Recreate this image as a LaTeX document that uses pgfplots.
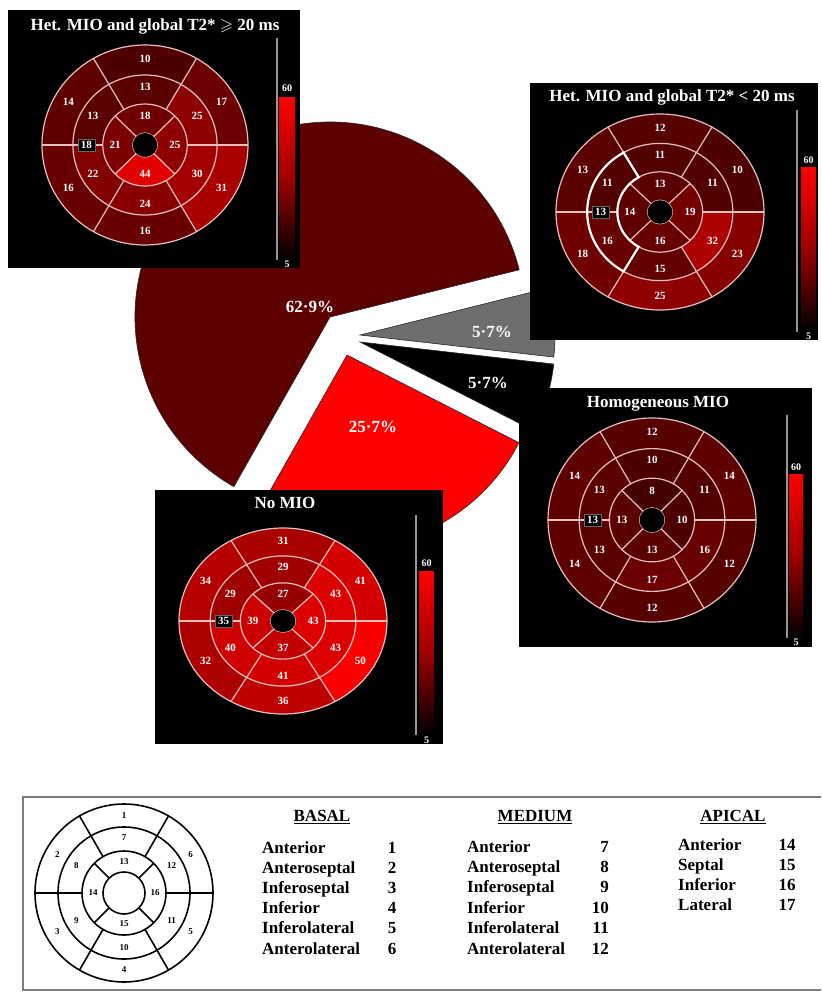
\documentclass[border=0pt]{standalone}
\usepackage{pgfplots}
\pgfplotsset{compat=1.18}
\usepackage{fontspec}
\setmainfont{Liberation Serif}
\usepackage{amssymb}

\definecolor{piedark}{RGB}{92,0,0}
\definecolor{piegray}{RGB}{110,110,110}
\definecolor{segline}{RGB}{228,192,192}
\definecolor{cbline}{RGB}{150,150,150}
\definecolor{framegray}{RGB}{125,125,125}

% pie shares (percent)
\def\pctGray{5.7}\def\pctDark{62.9}\def\pctRed{25.7}\def\pctBlack{5.7}

\tikzset{numlab/.style={text=white, inner sep=0pt, font=\fontsize{11}{12}\selectfont\bfseries},
  ttl/.style={text=white, inner sep=0pt, font=\fontsize{17}{20}\selectfont\bfseries},
  pielab/.style={text=white, inner sep=0pt, font=\fontsize{17}{19}\selectfont\bfseries},
  leg/.style={inner sep=0pt, anchor=base west, font=\fontsize{17}{19}\selectfont\bfseries},
  legn/.style={inner sep=0pt, anchor=base, font=\fontsize{17}{19}\selectfont\bfseries},
  cblab/.style={text=white, inner sep=0pt, font=\fontsize{10}{11}\selectfont\bfseries}}

\newcommand{\seg}[9]{%
  \pgfmathsetmacro\pc{min(100,max(0,22+(#9-5)*1.7))}%
  \pgfmathsetmacro\aA{#7}\pgfmathsetmacro\aB{#8}%
  \pgfmathsetmacro\Rox{#6*#3}\pgfmathsetmacro\Roy{#6*#4}%
  \pgfmathsetmacro\Rix{#5*#3}\pgfmathsetmacro\Riy{#5*#4}%
  \pgfmathsetmacro\Dx{(#5-#6)*#3}\pgfmathsetmacro\Dy{(#5-#6)*#4}%
  \fill[red!\pc!black] (axis cs:#1,#2) ++(\aA:\Rox pt and \Roy pt)
    arc[start angle=\aA, end angle=\aB, x radius=\Rox pt, y radius=\Roy pt]
    -- ++(\aB:\Dx pt and \Dy pt)
    arc[start angle=\aB, end angle=\aA, x radius=\Rix pt, y radius=\Riy pt] -- cycle;
}

\newcommand{\radial}[7]{% cx cy rx ry r1 r2 angle, pink line
  \pgfmathsetmacro\Ax{#5*#3}\pgfmathsetmacro\Ay{#5*#4}%
  \pgfmathsetmacro\Bx{(#6-#5)*#3}\pgfmathsetmacro\By{(#6-#5)*#4}%
  \draw[segline, line width=1.2pt] (axis cs:#1,#2) ++(#7:\Ax pt and \Ay pt) -- ++(#7:\Bx pt and \By pt);
}

\newcommand{\bullseye}[8]{%
  \def\cx{#1}\def\cy{#2}\def\rx{#3}\def\ry{#4}%
  \foreach \v [count=\i] in {#5} {\pgfmathsetmacro\ang{90+(\i-1)*60}%
    \seg{\cx}{\cy}{\rx}{\ry}{0.70}{1}{\ang-30}{\ang+30}{\v}}%
  \foreach \v [count=\i] in {#6} {\pgfmathsetmacro\ang{90+(\i-1)*60}%
    \seg{\cx}{\cy}{\rx}{\ry}{0.41}{0.70}{\ang-30}{\ang+30}{\v}}%
  \foreach \v [count=\i] in {#7} {\pgfmathsetmacro\ang{90+(\i-1)*90}%
    \seg{\cx}{\cy}{\rx}{\ry}{0.12}{0.41}{\ang-45}{\ang+45}{\v}}%
  \foreach \r in {1,0.70,0.41,0.12} {%
    \pgfmathsetmacro\Ex{\r*\rx}\pgfmathsetmacro\Ey{\r*\ry}%
    \draw[segline, line width=1.2pt] (axis cs:\cx,\cy) ellipse[x radius=\Ex pt, y radius=\Ey pt];}%
  \pgfmathsetmacro\Hx{0.12*\rx}\pgfmathsetmacro\Hy{0.12*\ry}%
  \fill[black] (axis cs:\cx,\cy) ellipse[x radius=\Hx pt, y radius=\Hy pt];
  \foreach \a in {0,60,120,180,240,300} {\radial{\cx}{\cy}{\rx}{\ry}{0.41}{1}{\a}}%
  \foreach \a in {45,135,225,315} {\radial{\cx}{\cy}{\rx}{\ry}{0.12}{0.41}{\a}}%
  \foreach \v [count=\i] in {#5} {\pgfmathsetmacro\ang{90+(\i-1)*60}%
    \pgfmathsetmacro\Lx{0.86*\rx}\pgfmathsetmacro\Ly{0.86*\ry}%
    \path (axis cs:\cx,\cy) ++(\ang:\Lx pt and \Ly pt) node[numlab] {\v};}%
  \foreach \v [count=\i] in {#6} {\pgfmathsetmacro\ang{90+(\i-1)*60}%
    \pgfmathsetmacro\Lx{0.585*\rx}\pgfmathsetmacro\Ly{0.585*\ry}%
    \path (axis cs:\cx,\cy) ++(\ang:\Lx pt and \Ly pt) node[numlab] {\v};}%
  \foreach \v [count=\i] in {#7} {\pgfmathsetmacro\ang{90+(\i-1)*90}%
    \pgfmathsetmacro\Lx{0.29*\rx}\pgfmathsetmacro\Ly{0.29*\ry}%
    \path (axis cs:\cx,\cy) ++(\ang:\Lx pt and \Ly pt) node[numlab] {\v};}%
  \pgfmathsetmacro\bx{\cx-0.57*\rx}%
  \node[fill=black, draw=black!60!white, line width=0.5pt, text=white, inner xsep=3pt, inner ysep=2.5pt,
        font=\fontsize{11}{12}\selectfont\bfseries] at (axis cs:\bx,\cy) {#8};
}

\newcommand{\cbar}[9]{% linex liney1 liney2 barx1 bary1 barx2 bary2 lab60y lab5y
  \draw[cbline, line width=1.5pt] (axis cs:#1,#2) -- (axis cs:#1,#3);
  \shade[top color=red, bottom color=black, middle color=red!62!black] (axis cs:#4,#5) rectangle (axis cs:#6,#7);
  \pgfmathsetmacro\mx{(#4+#6)/2}%
  \node[cblab] at (axis cs:\mx,#8) {60};
  \node[cblab] at (axis cs:\mx,#9) {5};
}

\newcommand{\slice}[6]{% apex x, apex y, R, a1, a2, colour
  \filldraw[fill=#6, draw=black!85, line width=0.6pt] (axis cs:#1,#2) -- ++(#4:#3 pt)
    arc[start angle=#4, end angle=#5, radius=#3 pt] -- cycle;
}

\begin{document}
\begin{tikzpicture}
\begin{axis}[x=1pt, y=1pt, y dir=reverse, xmin=0, xmax=821, ymin=0, ymax=997,
  hide axis, clip=false]
\pgfplotsextra{
  \fill[white] (axis cs:0,0) rectangle (axis cs:821,997);
  % ---------------- pie ----------------
  \pgfmathsetmacro\aG{-6.5}
  \pgfmathsetmacro\aD{\aG+3.6*\pctGray}
  \pgfmathsetmacro\aR{\aD+3.6*\pctDark}
  \pgfmathsetmacro\aB{\aR+3.6*\pctRed}
  \pgfmathsetmacro\aE{\aB+3.6*\pctBlack}
  \slice{330}{317}{195}{\aD}{\aR}{piedark}
  \slice{347}{355}{193}{\aR}{\aB}{red}
  \slice{360}{342}{195}{\aB}{\aE}{black}
  \slice{360}{335}{195}{\aG}{\aD}{piegray}
  \node[pielab] at (axis cs:310,307) {62·9\%};
  \node[pielab] at (axis cs:373,427) {25·7\%};
  \node[pielab] at (axis cs:492,332) {5·7\%};
  \node[pielab] at (axis cs:488,383) {5·7\%};
  % ---------------- inset 1 ----------------
  \fill[black] (axis cs:8,10) rectangle (axis cs:300,268);
  \node[ttl] at (axis cs:155,26) {Het. MIO and global T2* $\geqslant$ 20 ms};
  \bullseye{145}{145}{103}{100}{10,14,16,16,31,17}{13,13,22,24,30,25}{18,21,44,25}{18}
  \cbar{277}{38}{260}{279}{97}{295}{260}{88}{264}
  % ---------------- inset 2 ----------------
  \fill[black] (axis cs:530,83) rectangle (axis cs:818,340);
  \node[ttl] at (axis cs:672,97) {Het. MIO and global T2* < 20 ms};
  \bullseye{660}{212}{104}{98}{12,13,18,25,23,10}{11,11,16,15,32,11}{13,14,16,19}{13}
  \draw[white, line width=2.2pt] (axis cs:660,212) ++(120:72.8pt and 68.6pt)
     arc[start angle=120, end angle=240, x radius=72.8pt, y radius=68.6pt]
     -- ++(240:-30.16pt and -28.42pt)
     arc[start angle=240, end angle=120, x radius=42.64pt, y radius=40.18pt] -- cycle;
  \node[fill=black, draw=black!60!white, line width=0.5pt, text=white, inner xsep=3pt, inner ysep=2.5pt,
        font=\fontsize{11}{12}\selectfont\bfseries] at (axis cs:600.7,212) {13};
  \cbar{797}{110}{332}{801}{167}{816}{330}{160}{336}
  % ---------------- inset 3 ----------------
  \fill[black] (axis cs:519,388) rectangle (axis cs:812,647);
  \node[ttl] at (axis cs:658,404) {Homogeneous MIO};
  \bullseye{652}{520}{104}{102}{12,14,14,12,12,14}{10,13,13,17,16,11}{8,13,13,10}{13}
  \cbar{787}{415}{638}{789}{474}{803}{638}{467}{642}
  % ---------------- inset 4 ----------------
  \fill[black] (axis cs:155,490) rectangle (axis cs:443,744);
  \node[ttl] at (axis cs:285,503) {No MIO};
  \bullseye{283}{621}{104}{93}{31,34,32,36,50,41}{29,29,40,41,43,43}{27,39,37,43}{35}
  \cbar{416}{515}{735}{419}{571}{434}{734}{563}{740}
  % ---------------- legend ----------------
  \draw[framegray, line width=2pt] (axis cs:821,797) -- (axis cs:23,797) -- (axis cs:23,990) -- (axis cs:821,990);
  \foreach \r in {89,66,42,21} {\draw[black, line width=1.6pt] (axis cs:124,893) circle[radius=\r pt];}
  \foreach \a in {0,60,120,180,240,300} {\draw[black, line width=1.6pt] (axis cs:124,893) ++(\a:42pt) -- ++(\a:47pt);}
  \foreach \a in {45,135,225,315} {\draw[black, line width=1.6pt] (axis cs:124,893) ++(\a:21pt) -- ++(\a:21pt);}
  \foreach \n [count=\i] in {1,2,3,4,5,6} {\pgfmathsetmacro\ang{90+(\i-1)*60}
     \path (axis cs:124,893) ++(\ang:77pt) node[inner sep=0pt, font=\fontsize{9}{10}\selectfont\bfseries] {\n};}
  \foreach \n [count=\i] in {7,8,9,10,11,12} {\pgfmathsetmacro\ang{90+(\i-1)*60}
     \path (axis cs:124,893) ++(\ang:55pt) node[inner sep=0pt, font=\fontsize{9}{10}\selectfont\bfseries] {\n};}
  \foreach \n [count=\i] in {13,14,15,16} {\pgfmathsetmacro\ang{90+(\i-1)*90}
     \path (axis cs:124,893) ++(\ang:31pt) node[inner sep=0pt, font=\fontsize{9}{10}\selectfont\bfseries] {\n};}
  \node[legn] at (axis cs:322,821) {\underline{BASAL}};
  \node[legn] at (axis cs:535,821) {\underline{MEDIUM}};
  \node[legn] at (axis cs:733,821) {\underline{APICAL}};
  \foreach \t/\n [count=\i] in {Anterior/1,Anteroseptal/2,Inferoseptal/3,Inferior/4,Inferolateral/5,Anterolateral/6} {
     \pgfmathsetmacro\yy{853+(\i-1)*20.2}
     \node[leg] at (axis cs:262,\yy) {\t};
     \node[legn] at (axis cs:392,\yy) {\n};}
  \foreach \t/\n [count=\i] in {Anterior/7,Anteroseptal/8,Inferoseptal/9,Inferior/10,Inferolateral/11,Anterolateral/12} {
     \pgfmathsetmacro\yy{852+(\i-1)*20.4}
     \node[leg] at (axis cs:467,\yy) {\t};
     \node[legn, anchor=base east] at (axis cs:609,\yy) {\n};}
  \foreach \t/\n [count=\i] in {Anterior/14,Septal/15,Inferior/16,Lateral/17} {
     \pgfmathsetmacro\yy{850+(\i-1)*20}
     \node[leg] at (axis cs:678,\yy) {\t};
     \node[legn] at (axis cs:787,\yy) {\n};}
}
\end{axis}
\end{tikzpicture}
\end{document}
